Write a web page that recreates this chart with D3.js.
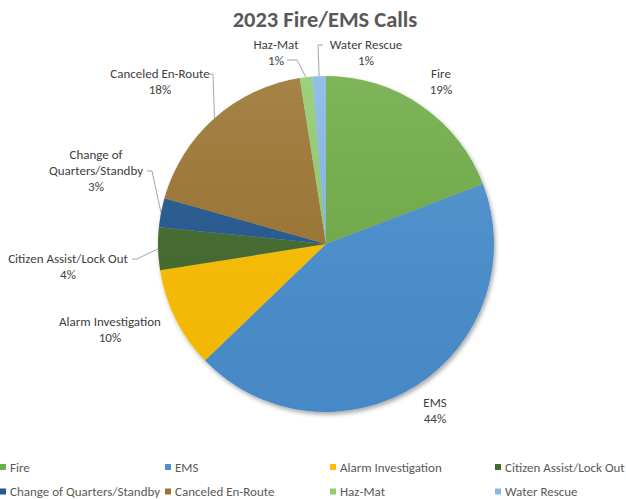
<!DOCTYPE html>
<html>
<head>
<meta charset="utf-8">
<script src="https://cdn.jsdelivr.net/npm/d3@7"></script>
<style>
  body { margin: 0; background: #fff; }
  svg { display: block; font-family: Carlito, Lato, sans-serif; }
</style>
</head>
<body>
<svg id="chart" width="626" height="499"></svg>
<script>
// data (share of calls, %)
const categories = ["Fire", "EMS", "Alarm Investigation", "Citizen Assist/Lock Out",
  "Change of Quarters/Standby", "Canceled En-Route", "Haz-Mat", "Water Rescue"];
const shares = [19.2, 43.6, 9.7, 4.1, 2.8, 18.1, 1.2, 1.3];
const pctLabels = ["19%", "44%", "10%", "4%", "3%", "18%", "1%", "1%"];
const colours = ["#70ad47", "#4a90d0", "#ffc000", "#426b2c",
  "#24588f", "#9c7430", "#92cc70", "#86b9e6"];

// label layout (text lines, centre x, first baseline, optional leader start/elbow)
const labelLayout = {
  "Fire": { lines: ["Fire"], x: 441, y: 78 },
  "EMS": { lines: ["EMS"], x: 435, y: 407 },
  "Alarm Investigation": { lines: ["Alarm Investigation"], x: 110, y: 326 },
  "Citizen Assist/Lock Out": { lines: ["Citizen Assist/Lock Out"], x: 68, y: 263,
    leader: [[132, 259], [137, 259]] },
  "Change of Quarters/Standby": { lines: ["Change of", "Quarters/Standby"], x: 96, y: 159,
    leader: [[147, 171], [152, 171]] },
  "Canceled En-Route": { lines: ["Canceled En-Route"], x: 160, y: 78,
    leader: [[209, 74], [213, 74]] },
  "Haz-Mat": { lines: ["Haz-Mat"], x: 276, y: 49,
    leader: [[287, 60], [297, 60]] },
  "Water Rescue": { lines: ["Water Rescue"], x: 366, y: 49,
    leader: [[323, 45], [318, 45]] }
};

const svg = d3.select("#chart");
const cx = 326, cy = 244, radius = 168;
const labelFont = 13;

// title
svg.append("text")
  .attr("x", 325).attr("y", 27)
  .attr("text-anchor", "middle")
  .attr("font-size", 22.5).attr("font-weight", "bold")
  .attr("fill", "#595959")
  .text("2023 Fire/EMS Calls");

const defs = svg.append("defs");
const shadow = defs.append("filter").attr("id", "shadow")
  .attr("x", "-10%").attr("y", "-10%").attr("width", "120%").attr("height", "120%");
shadow.append("feDropShadow")
  .attr("dx", 1.5).attr("dy", 2.5).attr("stdDeviation", 2)
  .attr("flood-color", "#000").attr("flood-opacity", 0.35);

const shade = defs.append("linearGradient").attr("id", "shade")
  .attr("x1", 0).attr("y1", 0).attr("x2", 0).attr("y2", 1);
shade.append("stop").attr("offset", "0%").attr("stop-color", "#fff").attr("stop-opacity", 0.1);
shade.append("stop").attr("offset", "100%").attr("stop-color", "#000").attr("stop-opacity", 0.05);

const data = categories.map((c, i) => ({ name: c, value: shares[i], pct: pctLabels[i] }));
const colour = d3.scaleOrdinal().domain(categories).range(colours);

const pie = d3.pie().value(d => d.value).sort(null);
const arc = d3.arc().innerRadius(0).outerRadius(radius);
const edge = d3.arc().innerRadius(radius).outerRadius(radius);
const arcs = pie(data);

const g = svg.append("g").attr("transform", `translate(${cx},${cy})`);
const slices = g.append("g").attr("filter", "url(#shadow)");
slices.selectAll("path")
  .data(arcs)
  .enter()
  .append("path")
  .attr("d", arc)
  .attr("fill", d => colour(d.data.name));
g.append("circle").attr("r", radius).attr("fill", "url(#shade)");

// leader lines and labels
arcs.forEach(a => {
  const lay = labelLayout[a.data.name];
  if (lay.leader) {
    const p = edge.centroid(a);
    const pts = lay.leader.concat([[p[0] + cx, p[1] + cy]]);
    svg.append("polyline")
      .attr("points", pts.map(q => q.join(",")).join(" "))
      .attr("fill", "none")
      .attr("stroke", "#a6a6a6")
      .attr("stroke-width", 1);
  }
  const t = svg.append("text")
    .attr("text-anchor", "middle")
    .attr("font-size", labelFont)
    .attr("fill", "#404040");
  lay.lines.concat([a.data.pct]).forEach((line, i) => {
    t.append("tspan").attr("x", lay.x).attr("y", lay.y + i * 16).text(line);
  });
});

// legend: four columns, two rows
const legendCol = d3.scaleBand().domain(d3.range(4)).range([0, 660]);
const legend = svg.append("g");
const items = legend.selectAll("g")
  .data(categories)
  .enter()
  .append("g")
  .attr("transform", (d, i) => `translate(${legendCol(i % 4)},${467 + Math.floor(i / 4) * 24.5})`);
items.append("rect")
  .attr("x", 0).attr("y", -3)
  .attr("width", 6).attr("height", 6)
  .attr("fill", d => colour(d));
items.append("text")
  .attr("x", 10).attr("y", 4.5)
  .attr("font-size", labelFont)
  .attr("fill", "#595959")
  .text(d => d);
</script>
</body>
</html>
